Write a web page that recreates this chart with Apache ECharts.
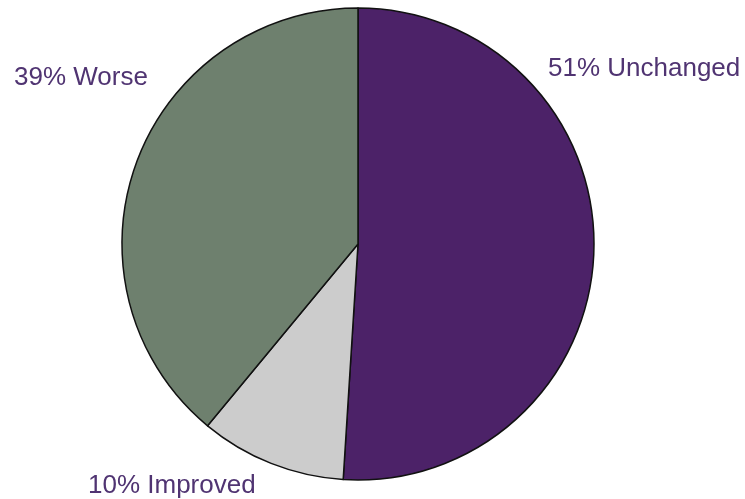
<!DOCTYPE html>
<html>
<head>
<meta charset="utf-8">
<script src="https://cdn.jsdelivr.net/npm/echarts@6/dist/echarts.min.js"></script>
<style>
html, body { margin: 0; padding: 0; background: #ffffff; }
#chart { width: 745px; height: 499px; }
</style>
</head>
<body>
<div id="chart"></div>
<script>
// Share of respondents by outcome
const categories = ['Unchanged', 'Improved', 'Worse'];
const shares = [51, 10, 39];
const sliceColors = ['#4C2268', '#CCCCCC', '#6E806E'];

// Label anchor points (left edge, vertical middle) per slice
const labelSpots = [
  { x: 548, y: 69 },
  { x: 88, y: 486 },
  { x: 14, y: 78 }
];

const chart = echarts.init(document.getElementById('chart'), null, { renderer: 'canvas' });

chart.setOption({
  animation: false,
  backgroundColor: '#ffffff',
  series: [{
    type: 'pie',
    center: [358, 244],
    radius: 236,
    startAngle: 90,
    clockwise: true,
    avoidLabelOverlap: false,
    data: categories.map((name, i) => ({
      name: name,
      value: shares[i],
      itemStyle: { color: sliceColors[i] }
    })),
    itemStyle: { borderColor: '#111111', borderWidth: 1.5 },
    label: {
      show: true,
      formatter: p => p.value + '% ' + p.name,
      color: '#503472',
      fontFamily: 'Liberation Sans, Arial, sans-serif',
      fontSize: 26
    },
    labelLine: { show: false },
    labelLayout: params => {
      const s = labelSpots[params.dataIndex];
      return { x: s.x, y: s.y, align: 'left', verticalAlign: 'middle' };
    },
    emphasis: { disabled: true }
  }]
});
</script>
</body>
</html>
